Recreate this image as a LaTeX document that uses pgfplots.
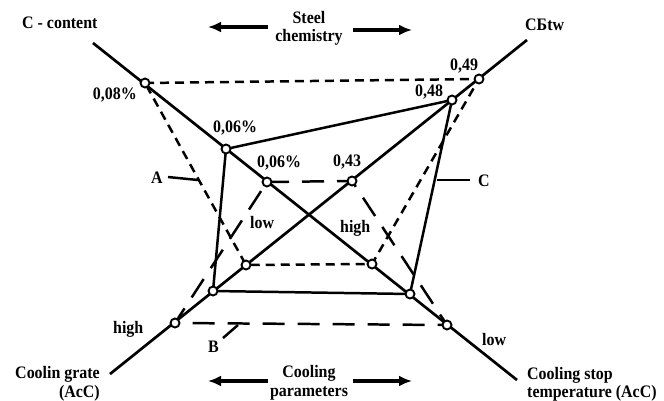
\documentclass[border=0pt]{standalone}
\usepackage{fontspec}
\setmainfont{Liberation Serif}
\usepackage{graphicx}
\usepackage{pgfplots}
\pgfplotsset{compat=1.18}
\usetikzlibrary{arrows.meta}
\tikzset{lbl/.style={font=\fontsize{16}{18}\selectfont\bfseries,inner sep=0pt,text=black}}
\newcommand{\T}[1]{\scalebox{1}[1.1]{#1}}
\begin{document}
\begin{tikzpicture}
\begin{axis}[width=664bp,height=400bp,scale only axis,
  xmin=0,xmax=664,ymin=0,ymax=400,y dir=reverse,hide axis,clip=false]
\path (axis cs:0,0) rectangle (axis cs:664,400);
% main axes
\addplot[black,line width=2.7pt] coordinates {(93,43) (517,380)};
\addplot[black,line width=2.7pt] coordinates {(527,40) (110,374)};
% A (short dashed)
\addplot[black,line width=2.5pt,dash pattern=on 9bp off 6bp] coordinates {(145,83) (479,79) (372,264) (246,265) (145,83)};
% solid quadrilateral
\addplot[black,line width=2.5pt] coordinates {(226,149) (452,100) (410,294) (213,291) (226,149)};
% B (long dashed)
\addplot[black,line width=2.5pt,dash pattern=on 22bp off 13bp] coordinates {(267,182) (352,181) (447,325) (175,323) (267,182)};
% label ticks
\addplot[black,line width=2.5pt] coordinates {(168,177) (198,180)};
\addplot[black,line width=2.5pt] coordinates {(437,180) (470,180)};
\addplot[black,line width=2.5pt] coordinates {(223,338) (238,325)};
% markers
\addplot[only marks,mark=*,mark size=4.5pt,mark options={fill=white,draw=black,line width=1.9pt}] coordinates {
(145,83) (226,149) (267,182) (479,79) (452,100) (352,181)
(246,265) (213,291) (175,323) (372,264) (410,294) (447,325)};
% arrows
\addplot[black,line width=3.2pt,-{Latex[length=13bp,width=11bp]}] coordinates {(268,27) (208,27)};
\addplot[black,line width=3.2pt,-{Latex[length=13bp,width=11bp]}] coordinates {(353,30) (412,30)};
\addplot[black,line width=3.2pt,-{Latex[length=13bp,width=11bp]}] coordinates {(268,381) (208,381)};
\addplot[black,line width=3.2pt,-{Latex[length=13bp,width=11bp]}] coordinates {(353,381) (412,381)};
% texts
\node[lbl,anchor=base west] at (axis cs:22,28) {\T{C - content}};
\node[lbl,anchor=base west] at (axis cs:525,30) {\T{CБtw}};
\node[lbl,anchor=base] at (axis cs:309,23) {\T{Steel}};
\node[lbl,anchor=base] at (axis cs:309,41) {\T{chemistry}};
\node[lbl,anchor=base east] at (axis cs:137,99) {\T{0,08\%}};
\node[lbl,anchor=base west] at (axis cs:213,132) {\T{0,06\%}};
\node[lbl,anchor=base west] at (axis cs:257,167) {\T{0,06\%}};
\node[lbl,anchor=base west] at (axis cs:333,166) {\T{0,43}};
\node[lbl,anchor=base west] at (axis cs:415,96) {\T{0,48}};
\node[lbl,anchor=base west] at (axis cs:450,70) {\T{0,49}};
\node[lbl,anchor=base west] at (axis cs:151,183) {\T{A}};
\node[lbl,anchor=base west] at (axis cs:478,186) {\T{C}};
\node[lbl,anchor=base west] at (axis cs:208,352) {\T{B}};
\node[lbl,anchor=base west] at (axis cs:250,228) {\T{low}};
\node[lbl,anchor=base west] at (axis cs:340,232) {\T{high}};
\node[lbl,anchor=base west] at (axis cs:113,333) {\T{high}};
\node[lbl,anchor=base west] at (axis cs:482,345) {\T{low}};
\node[lbl,anchor=base] at (axis cs:309,377) {\T{Cooling}};
\node[lbl,anchor=base] at (axis cs:309,396) {\T{parameters}};
\node[lbl,anchor=base east] at (axis cs:100,378) {\T{Coolin grate}};
\node[lbl,anchor=base east] at (axis cs:100,397) {\T{(AcC)}};
\node[lbl,anchor=base west] at (axis cs:527,379) {\T{Cooling stop}};
\node[lbl,anchor=base west] at (axis cs:527,397) {\T{temperature (AcC)}};
\end{axis}
\end{tikzpicture}
\end{document}
